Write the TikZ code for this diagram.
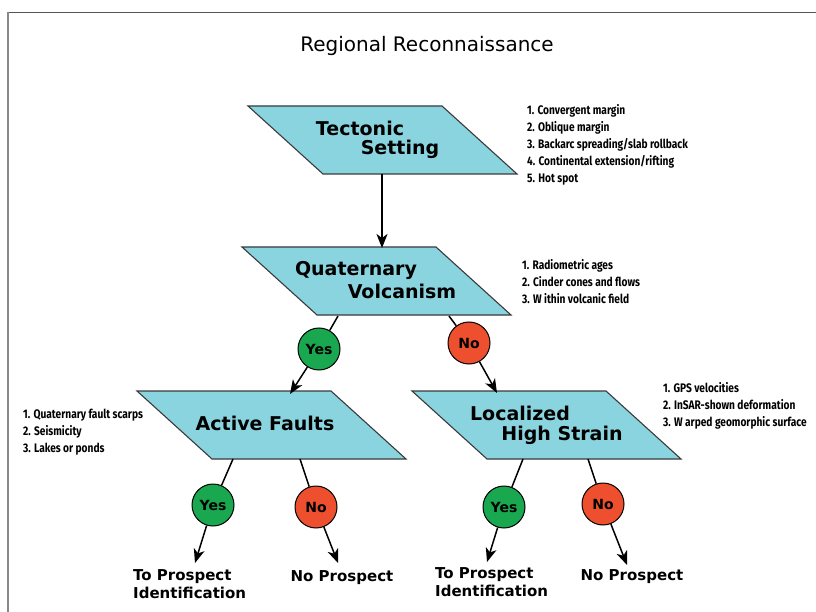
\documentclass[tikz,border=0pt]{standalone}
\usepackage{fontspec}
\setmainfont{DejaVu Sans}
\newfontfamily\comic{DejaVu Sans}
\newfontfamily\titlefont{DejaVu Sans}
\newfontfamily\listfont{Fira Sans}[FakeStretch=0.82]
\usetikzlibrary{arrows.meta}
\definecolor{paracol}{HTML}{8AD4DF}
\definecolor{paraline}{HTML}{3A3A3A}
\definecolor{yescol}{HTML}{19A84F}
\definecolor{nocol}{HTML}{EE502F}
\definecolor{frametop}{HTML}{555555}
\definecolor{frameleft}{HTML}{888888}
\newcommand\paral[2]{%
  \draw[para] (#1-134.5,#2-34) -- (#1+59.5,#2-34) -- (#1+134.5,#2+34) -- (#1-59.5,#2+34) -- cycle;}
\begin{document}
\begin{tikzpicture}[x=1pt,y=-1pt,
  para/.style={fill=paracol,draw=paraline,line width=1.1pt,line join=miter},
  dec/.style={circle,draw=black,line width=1pt,minimum size=42pt,inner sep=0,
     font=\comic\bfseries\fontsize{14}{14}\selectfont},
  yesc/.style={dec,fill=yescol},
  noc/.style={dec,fill=nocol},
  conn/.style={line width=1.5pt},
  arr/.style={conn,-{Stealth[length=14pt,width=11pt,inset=4pt]}},
  ptext/.style={font=\comic\bfseries\fontsize{19}{19}\selectfont,inner sep=0},
  btext/.style={font=\comic\bfseries\fontsize{15}{18}\selectfont,inner sep=0,align=left},
  ltext/.style={font=\listfont\bfseries\fontsize{12.4}{17}\selectfont,inner sep=0,align=left,anchor=west}]
\useasboundingbox (0,0) rectangle (816,612);
\draw[frametop,line width=1.5pt] (7,12.5) -- (816,12.5);
\draw[frameleft,line width=1.6pt] (8,12) -- (8,612);

\node[font=\titlefont\fontsize{20}{20}\selectfont] (title) at (427,46) {Regional Reconnaissance};

\paral{382.5}{140}
\paral{376.5}{281}
\paral{271.5}{425}
\paral{546.5}{425}

\node[ptext] (ts1) at (360,128) {Tectonic};
\node[ptext] (ts2) at (400,149) {Setting};
\node[ptext] (qv1) at (356,270) {Quaternary};
\node[ptext] (qv2) at (402,291) {Volcanism};
\node[ptext] (af) at (265,423) {Active Faults};
\node[ptext] (lh1) at (520,413) {Localized};
\node[ptext] (lh2) at (562,435) {High Strain};

\node[ltext] (tl) at (527,145) {1. Convergent margin\\2. Oblique margin\\3. Backarc spreading/slab rollback\\4. Continental extension/rifting\\5. Hot spot};
\node[ltext] (ql) at (522,282) {1. Radiometric ages\\2. Cinder cones and flows\\3. W ithin volcanic field};
\node[ltext] (al) at (23,432) {1. Quaternary fault scarps\\2. Seismicity\\3. Lakes or ponds};
\node[ltext] (ll) at (663,406) {1. GPS velocities\\2. InSAR-shown deformation\\3. W arped geomorphic surface};

\coordinate (tsb) at (382,174);
\coordinate (qvt) at (382,248);
\coordinate (qvl) at (338,316);
\coordinate (qvr) at (449,316);
\coordinate (aft) at (290,394);
\coordinate (lht) at (497,393);
\coordinate (afl) at (233,459);
\coordinate (afr) at (300,459);
\coordinate (lhl) at (523,459);
\coordinate (lhr) at (588,459);
\coordinate (e1) at (195,563);
\coordinate (e2) at (338,563);
\coordinate (e3) at (487,562);
\coordinate (e4) at (627,565);

\node[yesc] (y1) at (319,349) {Yes};
\node[noc] (n1) at (469,343) {No};
\node[yesc] (y2) at (213,505) {Yes};
\node[noc] (n2) at (316,507) {No};
\node[yesc] (y3) at (504,507) {Yes};
\node[noc] (n3) at (603,504) {No};

\draw[arr] (tsb) -- (qvt);
\draw[conn] (qvl) -- (y1);
\draw[arr] (y1) -- (aft);
\draw[conn] (qvr) -- (n1);
\draw[arr] (n1) -- (lht);
\draw[conn] (afl) -- (y2);
\draw[arr] (y2) -- (e1);
\draw[conn] (afr) -- (n2);
\draw[arr] (n2) -- (e2);
\draw[conn] (lhl) -- (y3);
\draw[arr] (y3) -- (e3);
\draw[conn] (lhr) -- (n3);
\draw[arr] (n3) -- (e4);

\node[btext,anchor=west] (p1) at (133,584) {To Prospect\\Identification};
\node[btext] (np1) at (342,578) {No Prospect};
\node[btext,anchor=west] (p2) at (435,582.5) {To Prospect\\Identification};
\node[btext] (np2) at (632,577) {No Prospect};
\end{tikzpicture}
\end{document}
